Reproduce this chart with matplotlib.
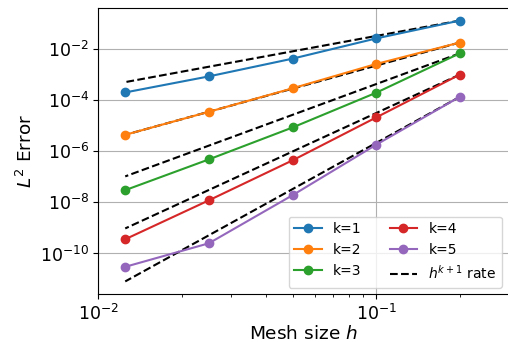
import numpy as np
import matplotlib
matplotlib.use("Agg")
import matplotlib.pyplot as plt

plt.rcParams['font.size'] = 12

# mesh sizes (coarse -> fine)
h = np.array([0.2, 0.1, 0.05, 0.025, 0.0125])

# L2 errors for each polynomial degree k
err_k1 = [1.3e-1, 2.6e-2, 4.2e-3, 8.5e-4, 2.0e-4]
err_k2 = [1.8e-2, 2.6e-3, 2.9e-4, 3.5e-5, 4.4e-6]
err_k3 = [6.8e-3, 1.95e-4, 8.5e-6, 4.8e-7, 3.0e-8]
err_k4 = [1.0e-3, 2.1e-5, 4.4e-7, 1.2e-8, 3.6e-10]
err_k5 = [1.35e-4, 1.8e-6, 1.9e-8, 2.5e-10, 3.0e-11]

ks = [1, 2, 3, 4, 5]
errors = [err_k1, err_k2, err_k3, err_k4, err_k5]

fig = plt.figure(figsize=(5.08, 3.42), dpi=100)
ax = fig.add_axes([0.1935, 0.139, 0.808, 0.839])

for k, e in zip(ks, errors):
    ax.loglog(h, e, 'o-', label='k=%d' % k)

# reference slopes anchored at the coarsest mesh
for i, (k, e) in enumerate(zip(ks, errors)):
    ref = e[0] * (h / h[0]) ** (k + 1)
    ax.loglog(h, ref, 'k--', zorder=1.8,
              label='$h^{k+1}$ rate' if i == 0 else None)

ax.set_xlim(1e-2, 0.3)
ax.yaxis.set_minor_locator(matplotlib.ticker.NullLocator())
ax.tick_params(labelsize=12.5, pad=3)
ax.grid(True)
ax.set_xlabel('Mesh size $h$', fontsize=13.3, labelpad=1)
ax.set_ylabel('$L^2$ Error', fontsize=13.3, labelpad=3)
ax.legend(ncol=2, loc='lower right', fontsize=10)

fig.savefig('out.png', dpi=100)
